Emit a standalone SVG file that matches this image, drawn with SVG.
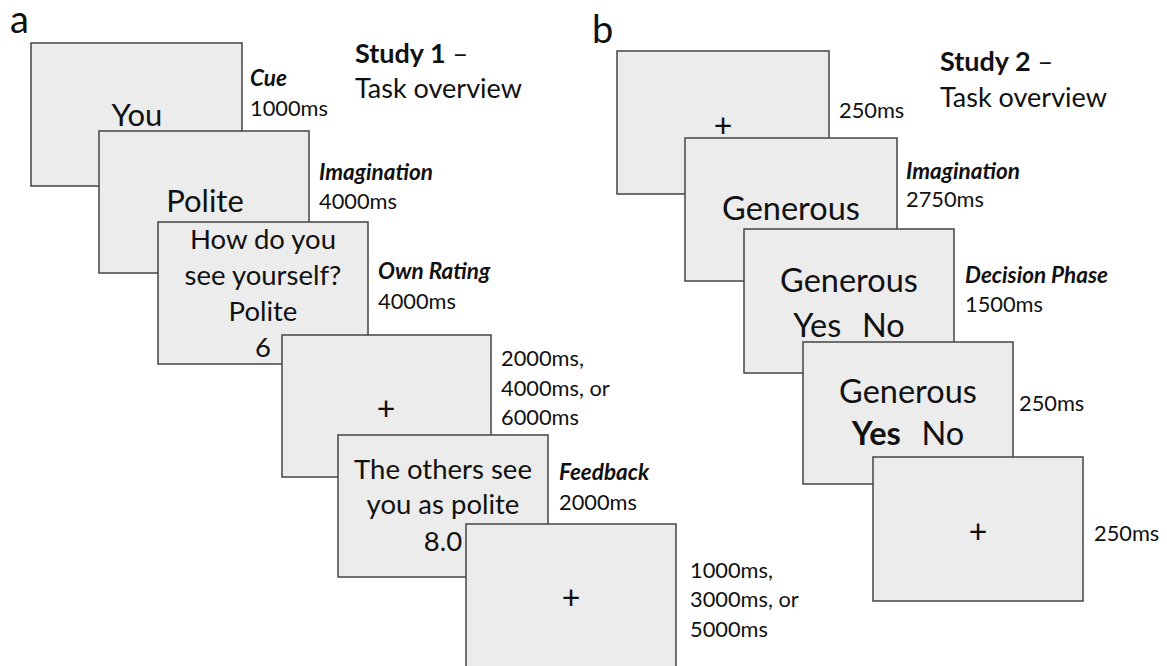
<svg xmlns="http://www.w3.org/2000/svg" width="1167" height="666" viewBox="0 0 1167 666">
<style>
text{font-family:Lato,"Open Sans","Liberation Sans",sans-serif;fill:#111}
.box{fill:#ececec;stroke:#444;stroke-width:1.5}
.big{font-size:31px;text-anchor:middle}
.mid{font-size:27.5px;text-anchor:middle}
.gen{font-size:32.5px;text-anchor:middle}
.plus{font-size:32px;text-anchor:middle}
.lbl{font-size:21.8px}
.ph{font-size:22.5px;font-weight:bold;font-style:italic}
.title{font-size:27px}
.panel{font-size:38px}
</style>
<rect width="1167" height="666" fill="#fff"/>
<text class="panel" x="10" y="33">a</text>
<text class="panel" x="592" y="43">b</text>
<g id="study1-title">
<text class="title" x="355" y="63"><tspan font-weight="bold">Study 1</tspan> –</text>
<text class="title" x="355" y="98">Task overview</text>
</g>
<g id="study2-title">
<text class="title" x="940" y="71"><tspan font-weight="bold">Study 2</tspan> –</text>
<text class="title" x="940" y="107">Task overview</text>
</g>
<g id="connectors"></g>
<g id="a1">
<rect class="box" x="31" y="43" width="211" height="143"/>
<text class="big" x="137" y="126">You</text>
<text class="ph" x="250" y="86">Cue</text>
<text class="lbl" x="250" y="116">1000ms</text>
</g>
<g id="a2">
<rect class="box" x="99" y="131" width="210" height="142"/>
<text class="big" x="205" y="212">Polite</text>
<text class="ph" x="319" y="180">Imagination</text>
<text class="lbl" x="319" y="209">4000ms</text>
</g>
<g id="a3">
<rect class="box" x="158" y="222" width="210" height="142"/>
<text class="mid" x="263" y="249">How do you</text>
<text class="mid" x="263" y="285">see yourself?</text>
<text class="mid" x="263" y="321">Polite</text>
<text class="mid" x="263" y="357">6</text>
<text class="ph" x="378" y="279">Own Rating</text>
<text class="lbl" x="378" y="309">4000ms</text>
</g>
<g id="a4">
<rect class="box" x="282" y="335" width="209" height="142"/>
<text class="plus" x="386" y="420">+</text>
<text class="lbl" x="501" y="366">2000ms,</text>
<text class="lbl" x="501" y="396">4000ms, or</text>
<text class="lbl" x="501" y="425">6000ms</text>
</g>
<g id="a5">
<rect class="box" x="338" y="435" width="210" height="142"/>
<text class="mid" x="443" y="479">The others see</text>
<text class="mid" x="443" y="514">you as polite</text>
<text class="mid" x="443" y="551">8.0</text>
<text class="ph" x="559" y="480">Feedback</text>
<text class="lbl" x="559" y="510">2000ms</text>
</g>
<g id="a6">
<rect class="box" x="466" y="524" width="210" height="160"/>
<text class="plus" x="571" y="609">+</text>
<text class="lbl" x="690" y="578">1000ms,</text>
<text class="lbl" x="690" y="607">3000ms, or</text>
<text class="lbl" x="690" y="637">5000ms</text>
</g>
<g id="b1">
<rect class="box" x="617" y="51" width="212" height="143"/>
<text class="plus" x="723" y="137">+</text>
<text class="lbl" x="839" y="118">250ms</text>
</g>
<g id="b2">
<rect class="box" x="685" y="138" width="212" height="143"/>
<text class="gen" x="791" y="220">Generous</text>
<text class="ph" x="906" y="179">Imagination</text>
<text class="lbl" x="906" y="207">2750ms</text>
</g>
<g id="b3">
<rect class="box" x="744" y="229" width="210" height="144"/>
<text class="gen" x="849" y="292">Generous</text>
<text class="gen" x="849" y="337" xml:space="preserve" word-spacing="2">Yes  No</text>
<text class="ph" x="965" y="283">Decision Phase</text>
<text class="lbl" x="965" y="312">1500ms</text>
</g>
<g id="b4">
<rect class="box" x="803" y="342" width="210" height="142"/>
<text class="gen" x="908" y="403">Generous</text>
<text class="gen" x="908" y="445" xml:space="preserve" word-spacing="2"><tspan font-weight="bold">Yes</tspan>  No</text>
<text class="lbl" x="1019" y="411">250ms</text>
</g>
<g id="b5">
<rect class="box" x="873" y="457" width="210" height="144"/>
<text class="plus" x="978" y="543">+</text>
<text class="lbl" x="1094" y="541">250ms</text>
</g>
</svg>
